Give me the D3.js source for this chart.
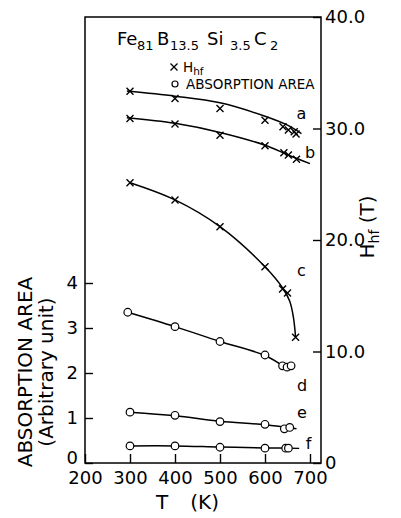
<!DOCTYPE html>
<html>
<head>
<meta charset="utf-8">
<script src="https://cdn.jsdelivr.net/npm/d3@7"></script>
<style>
    body { margin: 0; background: #fff; }
    svg { display: block; }
</style>
</head>
<body>
<script>
// ----- Data (T in K) -----

// Hyperfine field H_hf (T), measured points
const hfA = [[300, 33.35], [400, 32.7], [500, 31.8], [600, 30.75], [640, 30.16], [652, 29.87], [665, 29.71], [669, 29.5]];
const hfB = [[300, 30.9], [400, 30.4], [500, 29.4], [600, 28.46], [642, 27.83], [652, 27.62], [670, 27.24]];
const hfC = [[300, 25.14], [400, 23.59], [500, 21.19], [600, 17.6], [639, 15.6], [650, 15.25], [668, 11.27]];

// Absorption area (arbitrary unit), measured points
const areaD = [[295, 3.35], [400, 3.03], [500, 2.70], [600, 2.40], [639, 2.16], [649, 2.13], [658, 2.16]];
const areaE = [[300, 1.13], [400, 1.06], [500, 0.92], [600, 0.86], [643, 0.76], [655, 0.79]];
const areaF = [[300, 0.38], [400, 0.38], [500, 0.35], [600, 0.33], [646, 0.33], [652, 0.33]];

// Fitted curves drawn through the points
const fitA = [[293, 33.36], [400, 32.9], [500, 32.3], [600, 31.1], [650, 30.3], [681, 29.55]];
const fitB = [[293, 30.97], [400, 30.47], [500, 29.65], [600, 28.5], [650, 27.65], [700, 26.85]];
const fitC = [[300, 25.14], [400, 23.6], [500, 21.2], [600, 17.6], [640, 15.65], [655, 14.5], [663, 13.1], [668, 11.27]];
const fitD = [[295, 3.35], [400, 3.03], [500, 2.70], [600, 2.39], [641, 2.15]];
const fitE = [[300, 1.13], [400, 1.05], [500, 0.93], [600, 0.85], [670, 0.76]];
const fitF = [[300, 0.38], [400, 0.38], [500, 0.355], [600, 0.335], [676, 0.325]];

// Tick values
const xTicks = [200, 300, 400, 500, 600, 700];
const leftTicks = [0, 1, 2, 3, 4];
const rightTicks = [0, 10, 20, 30, 40];

// ----- Layout -----

const Width = 401, Height = 518;
const frame = { left: 85, right: 321, top: 17, bottom: 463 };
const fontFamily = "'DejaVu Sans', sans-serif";

const svg = d3.select("body").append("svg")
    .attr("width", Width)
    .attr("height", Height)
    .attr("font-family", fontFamily);

// Scales
const x = d3.scaleLinear().domain([200, 700]).range([frame.left, 310]);
const yRight = d3.scaleLinear().domain([0, 40]).range([frame.bottom, frame.top]);
const yLeft = d3.scaleLinear().domain([0, 4]).range([frame.bottom, 283]);

// Frame
svg.append("rect")
    .attr("x", frame.left)
    .attr("y", frame.top)
    .attr("width", frame.right - frame.left)
    .attr("height", frame.bottom - frame.top)
    .attr("fill", "none")
    .attr("stroke", "#000")
    .attr("stroke-width", 1.5);

// Axes
function styleAxis(g, size) {
    g.select(".domain").remove();
    g.attr("font-family", fontFamily).attr("font-size", size);
    g.selectAll("line").attr("stroke-width", 1.4);
}

svg.append("g")
    .attr("transform", `translate(0, ${frame.bottom})`)
    .call(d3.axisBottom(x).tickValues(xTicks).tickSizeInner(-9).tickSizeOuter(0).tickPadding(8))
    .call(g => styleAxis(g, 18));

svg.append("g")
    .attr("transform", `translate(${frame.left}, 0)`)
    .call(d3.axisLeft(yLeft).tickValues(leftTicks).tickSizeInner(-8).tickSizeOuter(0).tickPadding(7)
        .tickFormat(d3.format("d")))
    .call(g => styleAxis(g, 18))
    // the zero label sits a little higher, clear of "200"
    .call(g => g.selectAll(".tick text").filter(d => d === 0).attr("dy", "0"));

svg.append("g")
    .attr("transform", `translate(${frame.right}, 0)`)
    .call(d3.axisRight(yRight).tickValues(rightTicks).tickSizeInner(-8).tickSizeOuter(0).tickPadding(4)
        .tickFormat(d => d === 0 ? "0" : d3.format(".1f")(d)))
    .call(g => styleAxis(g, 18));

// Axis titles
svg.append("text")
    .attr("x", 156).attr("y", 509)
    .attr("font-size", 20)
    .text("T")
    .append("tspan").attr("dx", 22).text("(K)");

const leftTitle = svg.append("g")
    .attr("transform", "translate(32, 372) rotate(-90)")
    .attr("font-size", 20)
    .attr("text-anchor", "middle");
leftTitle.append("text").attr("y", 0).text("ABSORPTION AREA");
leftTitle.append("text").attr("y", 21).text("(Arbitrary unit)");

const rightTitle = svg.append("text")
    .attr("transform", "translate(374, 227) rotate(-90)")
    .attr("font-size", 20)
    .attr("text-anchor", "middle");
rightTitle.append("tspan").text("H");
rightTitle.append("tspan").attr("font-size", 14).attr("dy", 5).text("hf");
rightTitle.append("tspan").attr("dy", -5).text(" (T)");

// Title: Fe81 B13.5 Si3.5 C2
const title = svg.append("text").attr("y", 45).attr("font-size", 18);
[["Fe", 117, 0], ["81", 137, 1], ["B", 157, 0], ["13.5", 170, 1],
 ["Si", 207, 0], ["3.5", 230, 1], ["C", 254, 0], ["2", 270, 1]].forEach(([t, px, sub]) => {
    title.append("tspan")
        .attr("x", px)
        .attr("y", sub ? 50 : 45)
        .attr("font-size", sub ? 13 : 18)
        .text(t);
});

// Markers
const crossPath = "M-3.5,-3.5L3.5,3.5M-3.5,3.5L3.5,-3.5";

// Legend
svg.append("path")
    .attr("d", crossPath)
    .attr("transform", "translate(174, 67)")
    .attr("stroke", "#000").attr("stroke-width", 1.3);
const legH = svg.append("text").attr("x", 183).attr("y", 72).attr("font-size", 13.5);
legH.append("tspan").text("H");
legH.append("tspan").attr("font-size", 10.5).attr("dy", 3).text("hf");
svg.append("circle")
    .attr("cx", 175).attr("cy", 84)
    .attr("r", 3)
    .attr("fill", "#fff").attr("stroke", "#000").attr("stroke-width", 1.2);
svg.append("text")
    .attr("x", 186).attr("y", 88.5)
    .attr("font-size", 13.5)
    .text("ABSORPTION AREA");

// Curves
const lineRight = d3.line()
    .x(d => x(d[0])).y(d => yRight(d[1]))
    .curve(d3.curveCatmullRom.alpha(0.5));
const lineLeft = d3.line()
    .x(d => x(d[0])).y(d => yLeft(d[1]))
    .curve(d3.curveCatmullRom.alpha(0.5));

[fitA, fitB, fitC].forEach(fit => {
    svg.append("path")
        .attr("d", lineRight(fit))
        .attr("fill", "none").attr("stroke", "#000").attr("stroke-width", 1.5);
});
[fitD, fitE, fitF].forEach(fit => {
    svg.append("path")
        .attr("d", lineLeft(fit))
        .attr("fill", "none").attr("stroke", "#000").attr("stroke-width", 1.5);
});

// Points
[hfA, hfB, hfC].forEach(series => {
    svg.append("g").selectAll("path")
        .data(series)
        .enter()
        .append("path")
            .attr("d", crossPath)
            .attr("transform", d => `translate(${x(d[0])}, ${yRight(d[1])})`)
            .attr("stroke", "#000")
            .attr("stroke-width", 1.4);
});
[areaD, areaE, areaF].forEach(series => {
    svg.append("g").selectAll("circle")
        .data(series)
        .enter()
        .append("circle")
            .attr("cx", d => x(d[0]))
            .attr("cy", d => yLeft(d[1]))
            .attr("r", 3.8)
            .attr("fill", "#fff")
            .attr("stroke", "#000")
            .attr("stroke-width", 1.2);
});

// Curve labels
const curveLabels = [["a", 301.5, 119], ["b", 310, 157.5], ["c", 301.5, 276],
                     ["d", 302, 391], ["e", 302, 417.5], ["f", 308.5, 449]];
svg.append("g")
    .attr("font-size", 16)
    .attr("text-anchor", "middle")
    .selectAll("text")
    .data(curveLabels)
    .enter()
    .append("text")
        .attr("x", d => d[1])
        .attr("y", d => d[2])
        .text(d => d[0]);
</script>
</body>
</html>
